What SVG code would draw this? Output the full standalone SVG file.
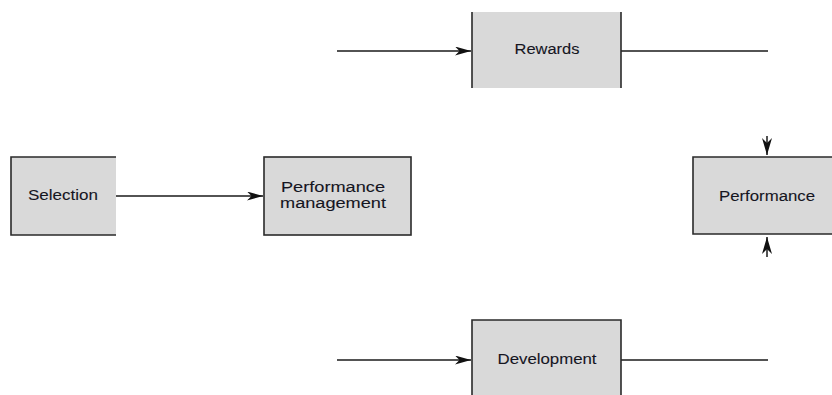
<svg xmlns="http://www.w3.org/2000/svg" width="832" height="395" viewBox="0 0 832 395">
  <style>
    .box { fill: #d9d9d9; stroke: none; }
    .edge { fill: none; stroke: #2a2a2a; stroke-width: 1.6; }
    .lbl { font-family: "Liberation Sans", Arial, sans-serif; font-size: 15.5px; fill: #15151f; stroke: #15151f; stroke-width: 0.1; text-anchor: middle; }
    .conn { fill: none; stroke: #1a1a1a; stroke-width: 1.5; }
  </style>
  <defs>
    <marker id="arr" viewBox="0 0 16 9" refX="16" refY="4.5" markerWidth="16" markerHeight="9" markerUnits="userSpaceOnUse" orient="auto">
      <path d="M0,0 L16,4.5 L0,9 L4.5,4.5 Z" fill="#111"/>
    </marker>
    <marker id="arrv" viewBox="0 0 17 10" refX="17" refY="5" markerWidth="17" markerHeight="10" markerUnits="userSpaceOnUse" orient="auto">
      <path d="M0,0 L17,5 L0,10 L5,5 Z" fill="#111"/>
    </marker>
  </defs>
  <rect width="832" height="395" fill="#ffffff"/>

  <g id="connectors">
    <line class="conn" x1="116" y1="196" x2="263" y2="196" marker-end="url(#arr)"/>
    <line class="conn" x1="337" y1="51" x2="471" y2="51" marker-end="url(#arr)" stroke="#333" stroke-width="2"/>
    <line class="conn" x1="621" y1="51" x2="768" y2="51" stroke="#333" stroke-width="2"/>
    <line class="conn" x1="337" y1="360" x2="471" y2="360" marker-end="url(#arr)"/>
    <line class="conn" x1="621" y1="360" x2="768" y2="360"/>
    <line class="conn" x1="767" y1="136" x2="767" y2="155" marker-end="url(#arrv)" stroke-width="0"/>
    <line class="conn" x1="767" y1="257" x2="767" y2="237" marker-end="url(#arrv)" stroke-width="0"/>
  </g>

  <g id="selection">
    <rect class="box" x="11" y="157" width="105" height="78"/>
    <path class="edge" d="M116,157 H11 V235 H116"/>
    <text class="lbl" x="63" y="200" textLength="70" lengthAdjust="spacingAndGlyphs">Selection</text>
  </g>

  <g id="performance-management">
    <rect class="box" x="264" y="157" width="147" height="78"/>
    <rect class="edge" x="264" y="157" width="147" height="78"/>
    <text class="lbl" x="333" y="192" textLength="104" lengthAdjust="spacingAndGlyphs">Performance</text>
    <text class="lbl" x="333" y="208" textLength="106" lengthAdjust="spacingAndGlyphs">management</text>
  </g>

  <g id="rewards">
    <rect class="box" x="472" y="12" width="149" height="76"/>
    <path class="edge" d="M472,12 V88 M621,12 V88"/>
    <text class="lbl" x="547" y="54" textLength="65" lengthAdjust="spacingAndGlyphs">Rewards</text>
  </g>

  <g id="development">
    <rect class="box" x="472" y="320" width="149" height="80"/>
    <path class="edge" d="M472,400 V320 H621 V400"/>
    <text class="lbl" x="547" y="364" textLength="99" lengthAdjust="spacingAndGlyphs">Development</text>
  </g>

  <g id="performance">
    <rect class="box" x="693" y="157" width="145" height="77"/>
    <path class="edge" d="M840,157 H693 V234 H840"/>
    <text class="lbl" x="767" y="201" textLength="96" lengthAdjust="spacingAndGlyphs">Performance</text>
  </g>
</svg>
